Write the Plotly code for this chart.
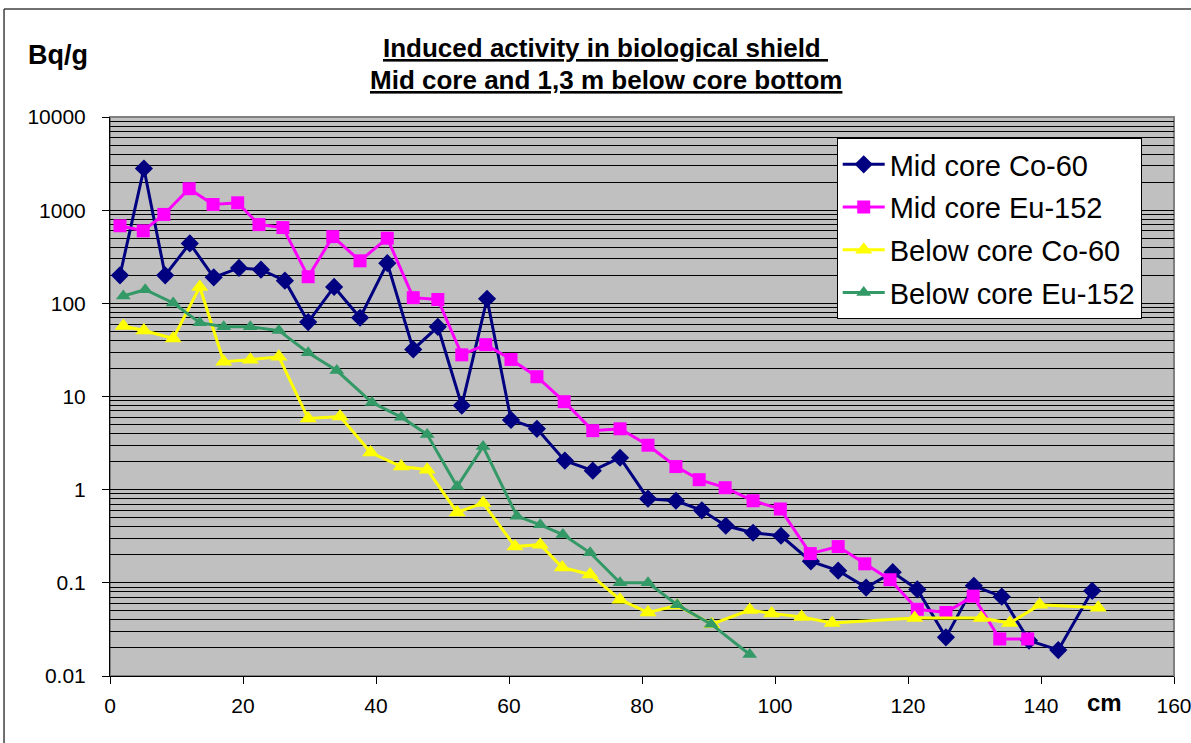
import plotly.graph_objects as go

# ---- data ----
mid_co_x = [1.5, 5.1, 8.3, 12.0, 15.6, 19.4, 22.7, 26.3, 29.8, 33.7, 37.6, 41.7, 45.6, 49.3,
            52.9, 56.7, 60.3, 64.2, 68.4, 72.6, 76.7, 80.9, 85.1, 89.0, 92.6, 96.7, 100.9,
            105.4, 109.5, 113.7, 117.7, 121.4, 125.7, 129.9, 134.1, 138.2, 142.6, 147.7]
mid_co_y = [200, 2800, 200, 440, 190, 240, 230, 175, 63, 150, 70, 270, 32, 56,
            8.0, 112, 5.6, 4.5, 2.05, 1.6, 2.2, 0.80, 0.76, 0.60, 0.41, 0.345, 0.32,
            0.17, 0.135, 0.089, 0.13, 0.085, 0.026, 0.093, 0.071, 0.024, 0.019, 0.082]

mid_eu_x = [1.5, 5.0, 8.1, 11.9, 15.5, 19.2, 22.4, 26.0, 29.8, 33.5, 37.6, 41.7, 45.6, 49.3,
            52.9, 56.5, 60.3, 64.2, 68.3, 72.6, 76.7, 80.9, 85.1, 88.6, 92.5, 96.7, 100.8,
            105.3, 109.5, 113.5, 117.3, 121.4, 125.7, 129.8, 133.8, 138.0]
mid_eu_y = [680, 600, 900, 1700, 1150, 1200, 700, 650, 193, 520, 286, 500, 115, 110,
            28, 36, 25, 16.3, 8.8, 4.3, 4.5, 3.0, 1.77, 1.28, 1.05, 0.76, 0.62,
            0.206, 0.245, 0.16, 0.108, 0.052, 0.048, 0.072, 0.025, 0.025]

below_co_x = [2.0, 5.1, 9.5, 13.5, 17.1, 21.1, 25.4, 29.8, 34.6, 39.2, 43.8, 47.7, 52.2, 56.1,
              60.9, 64.7, 68.0, 72.2, 76.7, 80.9, 85.3, 90.5, 96.2, 99.5, 104.0, 108.6,
              121.0, 131.0, 135.3, 139.8, 148.6]
below_co_y = [57, 51, 42, 150, 23.6, 24.8, 26.7, 5.8, 6.1, 2.5, 1.77, 1.64, 0.57, 0.72,
              0.245, 0.257, 0.146, 0.123, 0.066, 0.048, 0.057, 0.036, 0.051, 0.047, 0.043, 0.037,
              0.042, 0.042, 0.037, 0.058, 0.054]

below_eu_x = [2.0, 5.3, 9.5, 13.5, 17.1, 21.1, 25.4, 29.8, 34.1, 39.4, 43.8, 47.7, 52.2, 56.1,
              61.2, 64.7, 68.1, 72.2, 76.7, 80.9, 85.3, 90.4, 96.2]
below_eu_y = [120, 140, 101, 62, 56, 56, 51, 29.5, 19, 8.6, 6.0, 3.9, 1.08, 2.9,
              0.52, 0.42, 0.33, 0.21, 0.10, 0.10, 0.058, 0.036, 0.017]

y_tickvals = [0.01, 0.1, 1, 10, 100, 1000, 10000]
y_ticktext = ["0.01", "0.1", "1", "10", "100", "1000", "10000"]
x_tickvals = [0, 20, 40, 60, 80, 100, 120, 140, 160]

FONT = "Liberation Sans, Arial, sans-serif"

fig = go.Figure()
series = [
    ("Mid core Co-60", mid_co_x, mid_co_y, "#000080", "diamond", 14),
    ("Mid core Eu-152", mid_eu_x, mid_eu_y, "#FF00FF", "square", 13),
    ("Below core Co-60", below_co_x, below_co_y, "#FFFF00", "triangle-up", 15),
    ("Below core Eu-152", below_eu_x, below_eu_y, "#339966", "triangle-up", 13),
]
for i, (name, xs, ys, col, sym, sz) in enumerate(series):
    fig.add_trace(go.Scatter(
        x=xs, y=ys, name=name, mode="lines+markers",
        line=dict(color=col, width=3),
        marker=dict(color=col, symbol=sym, size=sz, line=dict(width=0)),
        legendgroup=f"g{i}",
    ))

minor_vals = [m * 10 ** e for e in range(-2, 4) for m in range(2, 10)]

fig.update_layout(
    width=1191, height=743,
    margin=dict(l=110, r=17, t=117, b=67, autoexpand=False),
    paper_bgcolor="white",
    plot_bgcolor="#C0C0C0",
    font=dict(family=FONT, color="black", size=21),
    showlegend=True,
    legend=dict(
        x=0.683, y=0.9624, xanchor="left", yanchor="top",
        bgcolor="white", bordercolor="black", borderwidth=1,
        font=dict(family=FONT, size=29, color="black"),
        itemwidth=42, tracegroupgap=2,
    ),
    xaxis=dict(
        range=[0, 160], tickvals=x_tickvals, showgrid=False, zeroline=False,
        showline=True, linecolor="black", linewidth=1,
        ticks="outside", ticklen=7, tickcolor="black",
        ticklabelstandoff=4, tickfont=dict(size=21),
        ticklabeloverflow="allow", automargin=False,
    ),
    yaxis=dict(
        type="log", range=[-2, 4], tickvals=y_tickvals, ticktext=y_ticktext,
        showgrid=True, gridcolor="black", gridwidth=1,
        showline=True, linecolor="black", linewidth=1,
        ticks="outside", ticklen=7, tickcolor="black",
        ticklabelstandoff=12, tickfont=dict(size=21), automargin=False,
        minor=dict(tickvals=minor_vals, showgrid=True, gridcolor="black",
                   gridwidth=1, ticks=""),
    ),
)

fig.add_annotation(x=0.466, y=1.1234, xref="paper", yref="paper", showarrow=False,
                   text="<b><u>Induced activity in biological shield </u></b>",
                   font=dict(family=FONT, size=26), xanchor="center", yanchor="middle")
fig.add_annotation(x=0.466, y=1.0662, xref="paper", yref="paper", showarrow=False,
                   text="<b><u>Mid core and 1,3 m below core bottom</u></b>",
                   font=dict(family=FONT, size=26), xanchor="center", yanchor="middle")
fig.add_annotation(x=-0.0489, y=1.111, xref="paper", yref="paper", showarrow=False,
                   text="<b>Bq/g</b>", font=dict(family=FONT, size=27),
                   xanchor="center", yanchor="middle")
fig.add_annotation(x=0.935, y=-0.048, xref="paper", yref="paper", showarrow=False,
                   text="<b>cm</b>", font=dict(family=FONT, size=24),
                   xanchor="center", yanchor="middle")

# plot-area border (grey) and outer chart frame (top & left visible)
fig.add_shape(type="rect", xref="paper", yref="paper", x0=0, x1=1, y0=0, y1=1,
              line=dict(color="#808080", width=2), layer="below")
fig.add_shape(type="line", xref="paper", yref="paper", x0=-0.0996, x1=1.02,
              y0=1.1932, y1=1.1932, line=dict(color="#404040", width=1.5))
fig.add_shape(type="line", xref="paper", yref="paper", x0=-0.0996, x1=-0.0996,
              y0=1.1932, y1=-0.13, line=dict(color="#404040", width=1.5))

fig.write_html("out.html")
